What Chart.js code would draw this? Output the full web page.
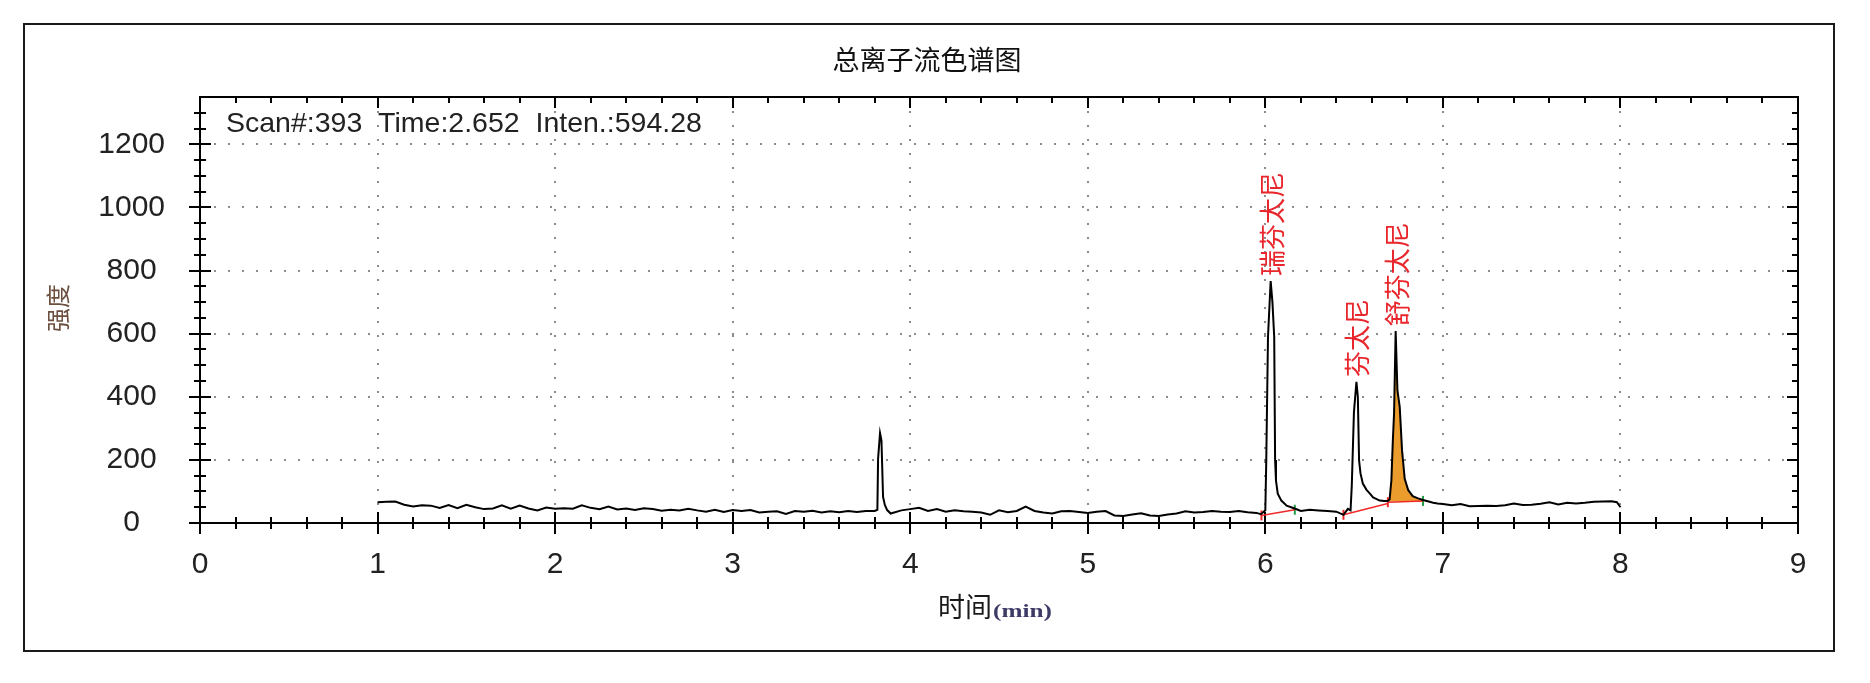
<!DOCTYPE html>
<html>
<head>
<meta charset="utf-8">
<script src="https://cdn.jsdelivr.net/npm/chart.js@4.4.0/dist/chart.umd.min.js"></script>
<style>
  body { margin: 0; background: #fff; }
  canvas { display: block; }
</style>
</head>
<body>
<canvas id="ticChart" width="1870" height="683"></canvas>
<script>
// retention time (min) and total ion current
const times = [
  1.00, 1.05, 1.10, 1.15, 1.20, 1.25, 1.30, 1.35, 1.40, 1.45,
  1.50, 1.55, 1.60, 1.65, 1.70, 1.75, 1.80, 1.85, 1.90, 1.95,
  2.00, 2.05, 2.10, 2.15, 2.20, 2.25, 2.30, 2.35, 2.40, 2.45,
  2.50, 2.55, 2.60, 2.65, 2.70, 2.75, 2.80, 2.85, 2.90, 2.95,
  3.00, 3.05, 3.10, 3.15, 3.20, 3.25, 3.30, 3.35, 3.40, 3.45,
  3.50, 3.55, 3.60, 3.65, 3.70, 3.75, 3.80,
  3.815, 3.819, 3.830, 3.838, 3.847, 3.857, 3.870, 3.890,
  3.95, 4.00, 4.05, 4.10, 4.15, 4.20, 4.25, 4.30, 4.35, 4.40,
  4.45, 4.50, 4.55, 4.60, 4.65, 4.70, 4.75, 4.80, 4.85, 4.90,
  4.95, 5.00, 5.05, 5.10, 5.15, 5.20, 5.25, 5.30, 5.35, 5.40,
  5.45, 5.50, 5.55, 5.60, 5.65, 5.70, 5.75, 5.80, 5.85, 5.90,
  5.95,
  5.975, 6.000, 6.005, 6.015, 6.030, 6.040, 6.050, 6.055, 6.060, 6.070, 6.090, 6.120, 6.165,
  6.20, 6.25, 6.30, 6.35, 6.40, 6.44, 6.465,
  6.480, 6.487, 6.499, 6.513, 6.521, 6.528, 6.536, 6.549, 6.570, 6.589, 6.607, 6.644, 6.670,
  6.690, 6.700, 6.710, 6.718, 6.725, 6.734, 6.744, 6.757, 6.770, 6.785, 6.805, 6.830, 6.860, 6.888, 6.920, 6.945, 6.970,
  7.00, 7.05, 7.10, 7.15, 7.20, 7.25, 7.30, 7.35, 7.40, 7.45,
  7.50, 7.55, 7.60, 7.65, 7.70, 7.75, 7.80, 7.85, 7.90, 7.95,
  7.98, 8.00
];
const intensity = [
  66, 67, 68, 58, 52, 56, 55, 48, 57, 47,
  58, 50, 44, 46, 56, 45, 55, 46, 40, 49,
  45, 47, 45, 56, 48, 44, 52, 43, 46, 41,
  47, 44, 39, 42, 40, 45, 40, 36, 42, 35,
  41, 38, 41, 33, 36, 37, 29, 38, 36, 39,
  33, 37, 34, 38, 35, 38, 38,
  42, 204, 285, 262, 83, 57, 41, 30,
  40, 44, 48, 38, 44, 36, 40, 37, 36, 33,
  26, 40, 34, 38, 52, 38, 33, 30, 37, 38,
  35, 32, 36, 38, 24, 22, 27, 31, 24, 22,
  27, 30, 37, 33, 35, 38, 36, 35, 38, 34,
  32,
  28, 40, 190, 590, 767, 700, 590, 200, 134, 93, 71, 55, 46,
  38, 42, 40, 38, 36, 26, 45,
  40, 120, 351, 447, 400, 198, 157, 125, 105, 93, 81, 71, 70,
  70, 75, 136, 260, 347, 608, 420, 367, 230, 140, 104, 85, 78, 73, 68, 64, 62,
  60, 56, 60, 53, 54, 55, 54, 56, 62, 57,
  58, 61, 66, 59, 64, 62, 64, 67, 68, 69,
  66, 50
];

// axis ticks
const xTicks = [0, 1, 2, 3, 4, 5, 6, 7, 8, 9];
const yTicks = [0, 200, 400, 600, 800, 1000, 1200];

// identified peaks (apex time) and names
const peakNames = ['瑞芬太尼', '芬太尼', '舒芬太尼'];
const peakTimes = [6.030, 6.513, 6.734];

// integration baselines: start / end points
const baseStartT = [5.978, 6.44, 6.69];
const baseStartY = [24, 26, 66];
const baseEndT = [6.166, 6.69, 6.888];
const baseEndY = [42, 62, 70];

// integrated (shaded) peak window
const shadeFrom = 6.69, shadeTo = 6.888, shadeBase = 68;

const pts = times.map((t, i) => ({ x: t, y: intensity[i] }));
const shadePts = pts.filter(p => p.x >= shadeFrom && p.x <= shadeTo);

const baseSets = baseStartT.map((t, i) => ({
  data: [{ x: t, y: baseStartY[i] }, { x: baseEndT[i], y: baseEndY[i] }],
  borderColor: '#f02a2a', borderWidth: 1.5, pointRadius: 0, order: 1
}));

const frame = {
  id: 'frame',
  beforeDraw(chart) {
    const c = chart.ctx;
    c.save();
    c.fillStyle = '#fff';
    c.fillRect(0, 0, chart.width, chart.height);
    c.strokeStyle = '#1a1a1a';
    c.lineWidth = 2;
    c.strokeRect(24, 24, 1810, 627);
    c.restore();
  },
  beforeDatasetsDraw(chart) {
    const { ctx: c, chartArea: a, scales: { x, y } } = chart;
    c.save();
    c.strokeStyle = '#000';
    c.lineWidth = 2;
    c.strokeRect(a.left, a.top, a.right - a.left, a.bottom - a.top);
    c.beginPath();
    for (let i = 0; i <= 45; i++) {
      const px = Math.round(x.getPixelForValue(i * 0.2));
      const len = i % 5 === 0 ? 11 : 6;
      c.moveTo(px, a.bottom - len); c.lineTo(px, a.bottom + len);
      c.moveTo(px, a.top); c.lineTo(px, a.top + len);
    }
    for (let v = 0; v <= 1300; v += 50) {
      const py = Math.round(y.getPixelForValue(v));
      const len = v % 200 === 0 ? 11 : 6;
      c.moveTo(a.left - len, py); c.lineTo(a.left + len, py);
      c.moveTo(a.right, py); c.lineTo(a.right - len, py);
    }
    c.stroke();
    c.restore();
  },
  afterDraw(chart) {
    const { ctx: c, scales: { x, y } } = chart;
    c.save();
    // title
    c.fillStyle = '#111';
    c.font = '27px "Noto Sans CJK SC"';
    c.textAlign = 'center';
    c.textBaseline = 'middle';
    c.fillText('总离子流色谱图', 927, 60);
    // scan info
    c.font = '28.5px "Liberation Sans"';
    c.textAlign = 'left';
    c.textBaseline = 'alphabetic';
    c.fillStyle = '#222';
    c.fillText('Scan#:393  Time:2.652  Inten.:594.28', 226, 132);
    // x axis title
    c.font = '27px "Noto Sans CJK SC"';
    c.textBaseline = 'middle';
    c.fillStyle = '#1a1a1a';
    c.fillText('时间', 938, 607);
    c.save();
    c.translate(993, 617);
    c.scale(1.4, 1);
    c.font = 'bold 18px "Liberation Serif"';
    c.textBaseline = 'alphabetic';
    c.fillStyle = '#3d3a66';
    c.fillText('(min)', 0, 0);
    c.restore();
    // y axis title
    c.save();
    c.translate(58, 308);
    c.rotate(-Math.PI / 2);
    c.font = '24px "Noto Sans CJK SC"';
    c.textAlign = 'center';
    c.fillStyle = '#6b5040';
    c.fillText('强度', 0, 0);
    c.restore();
    // peak names
    c.font = '26px "Noto Sans CJK SC"';
    c.fillStyle = '#e8262b';
    peakNames.forEach((name, i) => {
      const k = times.indexOf(peakTimes[i]);
      const px = x.getPixelForValue(times[k]);
      const py = y.getPixelForValue(intensity[k]);
      c.save();
      c.translate(px + 1, py - 5);
      c.rotate(-Math.PI / 2);
      c.textAlign = 'left';
      c.textBaseline = 'middle';
      c.fillText(name, 0, 0);
      c.restore();
    });
    c.restore();
  }
};

const ctx = document.getElementById('ticChart').getContext('2d');

const ticChart = new Chart(ctx, {
  type: 'line',
  data: {
    datasets: [
      {
        data: pts, borderColor: '#000', borderWidth: 2,
        pointRadius: 0, tension: 0, fill: false, order: 0
      },
      {
        data: shadePts, borderWidth: 0, borderColor: 'rgba(0,0,0,0)',
        backgroundColor: '#ea9c2c', pointRadius: 0,
        fill: { value: shadeBase }, order: 3
      },
      ...baseSets,
      {
        data: baseStartT.map((t, i) => ({ x: t, y: baseStartY[i] })),
        showLine: false, pointStyle: 'line', rotation: 90, pointRadius: 5,
        borderColor: '#f02a2a', borderWidth: 2, order: 1
      },
      {
        data: [{ x: baseEndT[0], y: baseEndY[0] }, { x: baseEndT[2], y: baseEndY[2] }],
        showLine: false, pointStyle: 'line', rotation: 90, pointRadius: 5,
        borderColor: '#22a048', borderWidth: 2, order: 1
      }
    ]
  },
  options: {
    responsive: false,
    animation: false,
    events: [],
    layout: { padding: { left: 24, right: 72, top: 97, bottom: 32 } },
    plugins: { legend: { display: false }, tooltip: { enabled: false } },
    scales: {
      x: {
        type: 'linear', min: 0, max: 9,
        afterBuildTicks: s => { s.ticks = xTicks.map(v => ({ value: v })); },
        afterFit: s => { s.height = 128; },
        grid: { color: '#8c8c8c', lineWidth: 2, drawTicks: false },
        border: { display: false, dash: [2, 12] },
        ticks: {
          padding: 24, color: '#222',
          font: { family: 'Liberation Sans', size: 30 },
          callback: v => String(v)
        }
      },
      y: {
        type: 'linear', min: 0, max: 1350,
        afterBuildTicks: s => { s.ticks = yTicks.map(v => ({ value: v })); },
        afterFit: s => { s.width = 176; },
        grid: { color: '#8c8c8c', lineWidth: 2, drawTicks: false },
        border: { display: false, dash: [2, 12] },
        ticks: {
          padding: 35, crossAlign: 'center', color: '#222',
          font: { family: 'Liberation Sans', size: 30 },
          callback: v => String(v)
        }
      }
    }
  },
  plugins: [frame]
});
</script>
</body>
</html>
